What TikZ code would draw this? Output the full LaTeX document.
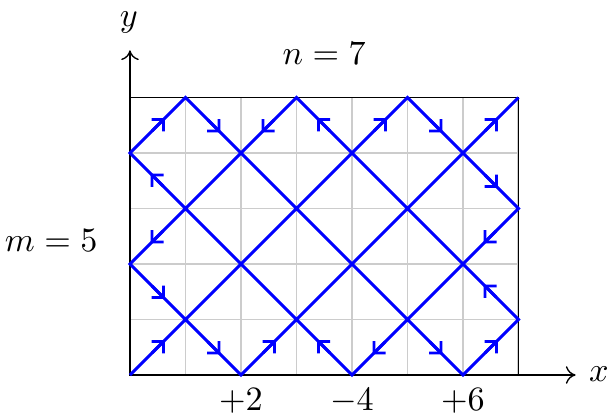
\documentclass[tikz,border=0pt]{standalone}
\usetikzlibrary{arrows.meta}
\begin{document}
\begin{tikzpicture}[x=1cm,y=1cm,every node/.style={scale=1.75},
  gridline/.style={draw=black!20,line width=1pt},
  frameline/.style={draw=black,line width=0.9pt},
  axisline/.style={draw=black,line width=0.7pt,-{To[length=5pt,width=9pt]}},
  billiard/.style={draw=blue,line width=1.5pt,line join=miter},
  mk/.style={draw=blue,line width=1.5pt,-{Straight Barb[length=0.15cm,width=0.3cm,line width=1.5pt]}}]
\useasboundingbox (-2.342,-0.721) rectangle (8.667,6.757);
% grid
\draw[gridline] (0,0) grid (7,5);
\draw[frameline] (0,0) rectangle (7,5);
% axes
\draw[axisline] (0,0) -- (8.03,0);
\draw[axisline] (0,0) -- (0,5.85);
\node (xl) at (8.45,0.02) {$x$};
\node (yl) at (-0.02,6.36) {$y$};
\node (nl) at (3.5,5.8) {$n=7$};
\node (ml) at (-1.42,2.43) {$m=5$};
\node (b2) at (2,-0.46) {$+2$};
\node (b4) at (4,-0.46) {$-4$};
\node (b6) at (6,-0.46) {$+6$};
% path
\draw[billiard] (0,0)--(5,5)--(7,3)--(4,0)--(0,4)--(1,5)--(6,0)--(7,1)--(3,5)--(0,2)--(2,0)--(7,5);
% arrow marks
\foreach \cx/\cy/\dx/\dy in {0.5/0.5/1/1, 4.5/4.5/1/1,
  5.5/4.5/1/-1, 6.5/3.5/1/-1,
  6.5/2.5/-1/-1, 4.5/0.5/-1/-1,
  3.5/0.5/-1/1, 0.5/3.5/-1/1,
  0.5/4.5/1/1,
  1.5/4.5/1/-1, 5.5/0.5/1/-1,
  6.5/0.5/1/1,
  6.5/1.5/-1/1, 3.5/4.5/-1/1,
  2.5/4.5/-1/-1, 0.5/2.5/-1/-1,
  0.5/1.5/1/-1, 1.5/0.5/1/-1,
  2.5/0.5/1/1, 6.5/4.5/1/1}
  \draw[mk] (\cx-0.1*\dx,\cy-0.1*\dy) -- (\cx+0.13*\dx,\cy+0.13*\dy);
\end{tikzpicture}
\end{document}
